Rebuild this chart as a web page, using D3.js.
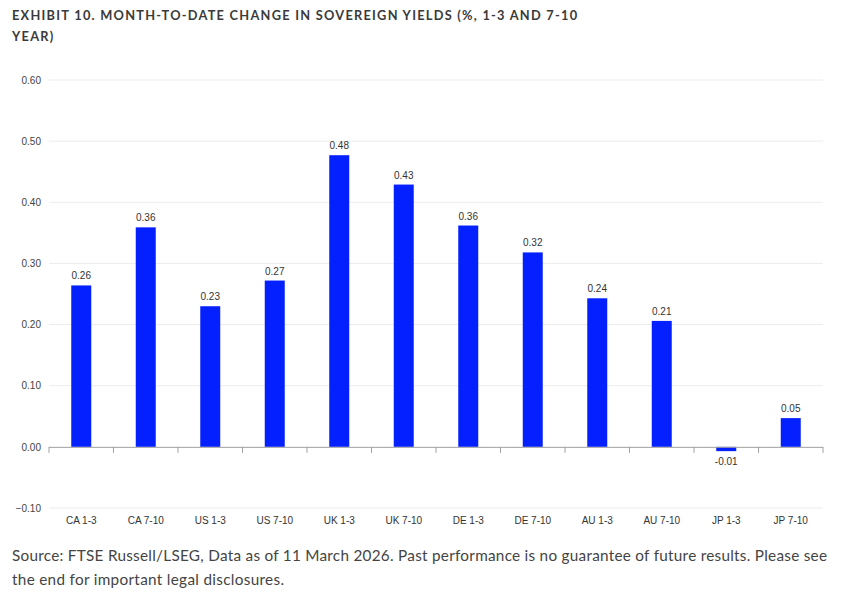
<!DOCTYPE html>
<html>
<head>
<meta charset="utf-8">
<script src="https://cdn.jsdelivr.net/npm/d3@7"></script>
<style>
  body { margin: 0; background: #fff; }
  #chart svg { display: block; }
</style>
</head>
<body>
<div id="chart"></div>
<script>
const categories = ["CA 1-3", "CA 7-10", "US 1-3", "US 7-10", "UK 1-3", "UK 7-10",
                    "DE 1-3", "DE 7-10", "AU 1-3", "AU 7-10", "JP 1-3", "JP 7-10"];
const changes = [0.264, 0.359, 0.230, 0.272, 0.477, 0.429, 0.362, 0.318, 0.243, 0.206, -0.007, 0.047];
const yTicks = [-0.10, 0.00, 0.10, 0.20, 0.30, 0.40, 0.50, 0.60];
const titleLines = ["EXHIBIT 10. MONTH-TO-DATE CHANGE IN SOVEREIGN YIELDS (%, 1-3 AND 7-10", "YEAR)"];
const sourceLines = ["Source: FTSE Russell/LSEG, Data as of 11 March 2026. Past performance is no guarantee of future results. Please see",
                     "the end for important legal disclosures."];

const width = 850, height = 611;
const margin = { top: 80, right: 27, bottom: 103, left: 49 };

const svg = d3.select("#chart")
  .append("svg")
  .attr("width", width)
  .attr("height", height);

// title
svg.append("g")
  .selectAll("text")
  .data(titleLines)
  .enter()
  .append("text")
  .attr("x", 12)
  .attr("y", (d, i) => 20 + i * 21)
  .attr("fill", "#3a3a3a")
  .style("font-family", "Lato, 'Open Sans', sans-serif")
  .style("font-weight", "700")
  .style("font-size", "12.8px")
  .style("letter-spacing", "1.25px")
  .text(d => d);

const xScale = d3.scaleBand()
  .domain(categories)
  .range([margin.left, width - margin.right])
  .paddingInner(0.69)
  .paddingOuter(0.345);

const yScale = d3.scaleLinear()
  .domain([-0.1, 0.6])
  .range([height - margin.bottom, margin.top]);

// horizontal gridlines
svg.append("g")
  .selectAll("line")
  .data(yTicks.filter(t => t !== 0))
  .enter()
  .append("line")
  .attr("x1", margin.left)
  .attr("x2", width - margin.right)
  .attr("y1", d => yScale(d))
  .attr("y2", d => yScale(d))
  .attr("stroke", "#ececec")
  .attr("stroke-width", 1);

// y axis labels
const yAxis = d3.axisLeft(yScale)
  .tickValues(yTicks)
  .tickFormat(d3.format(".2f"))
  .tickSize(0)
  .tickPadding(8);

svg.append("g")
  .attr("transform", `translate(${margin.left}, 0)`)
  .call(yAxis)
  .call(g => g.select(".domain").remove())
  .call(g => g.selectAll("text")
    .attr("fill", "#444")
    .style("font-family", "'Liberation Sans', Arial, sans-serif")
    .style("font-size", "10px"));

// bars
svg.append("g")
  .selectAll("rect")
  .data(categories)
  .enter()
  .append("rect")
  .attr("x", d => xScale(d))
  .attr("width", xScale.bandwidth())
  .attr("y", (d, i) => yScale(Math.max(0, changes[i])))
  .attr("height", (d, i) => Math.abs(yScale(changes[i]) - yScale(0)))
  .attr("fill", "#0520ff");

// zero line with ticks at band boundaries
const step = xScale.step();
const bounds = d3.range(categories.length + 1).map(i => margin.left + i * step);
const zeroY = yScale(0);

svg.append("line")
  .attr("x1", margin.left)
  .attr("x2", width - margin.right)
  .attr("y1", zeroY + 0.5)
  .attr("y2", zeroY + 0.5)
  .attr("stroke", "#a0a0a0");

svg.append("g")
  .selectAll("line")
  .data(bounds)
  .enter()
  .append("line")
  .attr("x1", d => d)
  .attr("x2", d => d)
  .attr("y1", zeroY)
  .attr("y2", zeroY + 6)
  .attr("stroke", "#a0a0a0");

// value labels
svg.append("g")
  .selectAll("text")
  .data(categories)
  .enter()
  .append("text")
  .attr("x", d => xScale(d) + xScale.bandwidth() / 2)
  .attr("y", (d, i) => changes[i] >= 0 ? yScale(changes[i]) - 6 : yScale(changes[i]) + 14)
  .attr("text-anchor", "middle")
  .attr("fill", "#333")
  .style("font-family", "'Liberation Sans', Arial, sans-serif")
  .style("font-size", "10px")
  .text((d, i) => changes[i].toFixed(2));

// category labels
svg.append("g")
  .selectAll("text")
  .data(categories)
  .enter()
  .append("text")
  .attr("x", d => xScale(d) + xScale.bandwidth() / 2)
  .attr("y", 524)
  .attr("text-anchor", "middle")
  .attr("fill", "#333")
  .style("font-family", "'Liberation Sans', Arial, sans-serif")
  .style("font-size", "10px")
  .text(d => d);

// source note
const sourceWidths = [815, 272];
svg.append("g")
  .selectAll("text")
  .data(sourceLines)
  .enter()
  .append("text")
  .attr("x", 12)
  .attr("y", (d, i) => 561 + i * 24)
  .attr("fill", "#444")
  .attr("textLength", (d, i) => sourceWidths[i])
  .attr("lengthAdjust", "spacing")
  .style("font-family", "Lato, 'Open Sans', sans-serif")
  .style("font-size", "15.3px")
  .text(d => d);
</script>
</body>
</html>
